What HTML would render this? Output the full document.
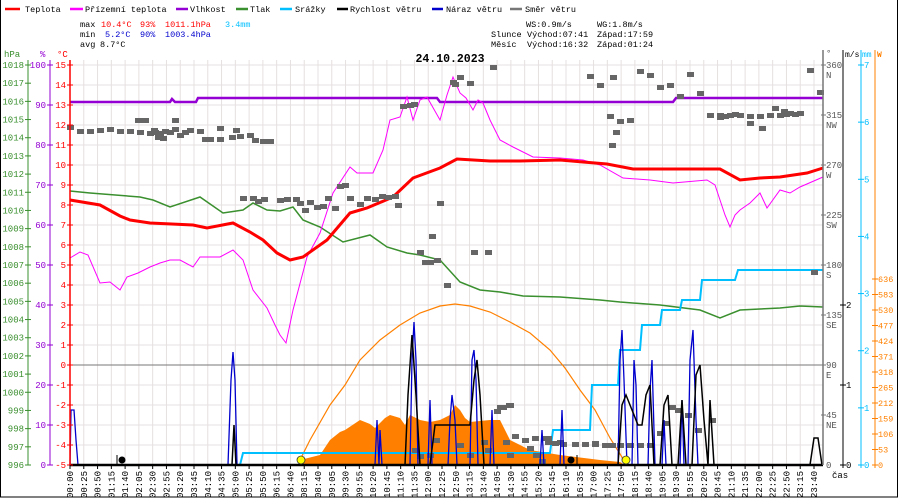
<!DOCTYPE html>
<html><head><meta charset="utf-8"><style>
html,body{margin:0;padding:0;background:#fff}
svg{display:block;font-family:"Liberation Mono",monospace}
</style></head><body>
<svg id="s" width="900" height="500" xmlns="http://www.w3.org/2000/svg">
<rect x="0" y="0" width="900" height="500" fill="#fff"/>
<g id="grid"></g>
<line x1="70" y1="365" x2="823" y2="365" stroke="#777" stroke-width="1"/>
<polygon fill="#ff8000" points="300,465 300,460 320,455 330,440 340,432 345,430 360,420 370,424 375,428 385,418 390,415 400,418 405,425 410,415 420,420 430,422 440,420 450,415 455,405 460,410 465,418 470,422 490,420 500,420 505,430 510,440 530,450 560,455 600,460 620,462 625,465"/>
<polyline fill="none" stroke="#ff8000" stroke-width="1.2" points="300,460 310,440 330,405 345,385 360,360 380,340 400,325 420,313 440,306 455,304 470,306 490,312 510,322 530,333 550,350 565,368 580,390 595,410 610,438 625,462"/>
<polyline fill="none" stroke="#9400d3" stroke-width="2.5" points="70,102 170,102 172,99 175,102 196,102 198,98 437,98 440,102 673,102 676,98 823,98"/>
<polyline fill="none" stroke="#3a8f2e" stroke-width="1.5" points="70,191 90,193 140,197 153,200 170,207 200,197 223,213 243,210 253,203 267,210 280,211 293,207 303,220 320,227 343,242 370,235 387,247 407,253 420,255 440,260 460,282 480,290 500,292 523,296 560,297 600,300 620,302 660,305 700,310 720,318 740,310 760,309 780,308 800,306 823,307"/>
<polyline fill="none" stroke="#ff00ff" stroke-width="1" points="70,258 80,252 88,255 100,283 110,282 120,290 127,277 138,273 150,267 160,263 170,260 180,260 193,267 200,257 220,257 233,250 243,260 253,290 267,308 275,325 280,335 286,343 293,310 307,257 320,233 333,193 350,167 357,173 373,173 383,150 390,120 400,117 407,97 413,120 420,100 427,97 440,120 447,95 453,77 460,93 466,98 473,110 478,100 483,103 490,120 500,140 513,147 533,157 560,158 583,160 600,165 623,178 650,180 673,183 707,180 715,185 720,200 725,215 730,227 735,215 740,210 750,203 760,193 767,208 780,190 790,193 800,187 823,177"/>
<polyline fill="none" stroke="#ff0000" stroke-width="3" points="70,200 100,205 120,216 130,220 150,223 193,225 207,228 233,223 250,232 263,240 277,253 290,260 303,257 327,240 350,213 367,208 393,197 413,178 440,168 457,159 490,161 520,161 560,160 583,162 607,164 633,169 720,169 740,180 760,178 780,177 807,173 823,168"/>
<polyline fill="none" stroke="#00bfff" stroke-width="2" points="70,465 240,465 243,453 550,453 553,430 590,430 592,385 618,385 620,350 640,350 642,325 660,325 662,310 680,310 682,300 700,300 702,280 735,280 738,270 823,270"/>
<g id="dir" fill="#666"></g>
<polyline fill="none" stroke="#0000cd" stroke-width="1.3" points="70,465 71,410 74,410 76,440 78,465 228,465 231,380 233,352 235,380 237,465 375,465 377,420 379,465 380,430 382,465 410,465 412,360 414,322 416,360 418,465 428,465 430,400 432,465 448,465 450,420 452,395 455,420 457,465 470,465 472,360 474,350 476,380 478,465 490,465 492,410 494,465 540,465 542,430 544,465 560,465 562,410 564,465 618,465 620,360 622,330 624,380 627,465 632,465 634,360 636,385 638,465 648,465 650,390 652,360 655,465 662,465 664,420 666,465 680,465 682,400 684,465 688,465 690,360 693,330 696,420 698,465 823,465"/>
<polyline fill="none" stroke="#000" stroke-width="1.5" points="70,465 232,465 234,425 236,465 405,465 408,395 412,335 416,395 420,465 430,465 435,425 470,425 474,380 477,360 480,395 484,465 618,465 622,405 626,395 632,410 638,425 642,425 646,395 650,385 654,465 660,465 664,405 668,395 672,465 678,465 682,400 686,465 692,465 696,375 700,365 704,420 708,465 710,400 714,465 810,465 814,438 818,438 822,465"/>
<line x1="70" y1="465" x2="823" y2="465" stroke="#000" stroke-width="2.5"/>
<circle cx="301" cy="460" r="4" fill="#ffff00" stroke="#333" stroke-width="0.8"/>
<circle cx="626" cy="460" r="4" fill="#ffff00" stroke="#333" stroke-width="0.8"/>
<circle cx="122" cy="460" r="3.5" fill="#000"/>
<circle cx="571" cy="460" r="3.5" fill="#000"/>
<line x1="117" y1="465" x2="117" y2="455" stroke="#000"/>
<line x1="577" y1="465" x2="577" y2="455" stroke="#000"/>
<g id="axes"></g>
<g id="xl" font-size="9"></g>
<g font-size="8.5">
<line x1="5" y1="9" x2="20" y2="9" stroke="#ff0000" stroke-width="2.5"/><text x="25" y="12">Teplota</text>
<line x1="70" y1="9" x2="83" y2="9" stroke="#ff00ff" stroke-width="2.5"/><text x="85" y="12">Přízemní teplota</text>
<line x1="176" y1="9" x2="188" y2="9" stroke="#9400d3" stroke-width="2.5"/><text x="190" y="12">Vlhkost</text>
<line x1="236" y1="9" x2="248" y2="9" stroke="#3a8f2e" stroke-width="2.5"/><text x="250" y="12">Tlak</text>
<line x1="280" y1="9" x2="292" y2="9" stroke="#00bfff" stroke-width="2.5"/><text x="295" y="12">Srážky</text>
<line x1="337" y1="9" x2="348" y2="9" stroke="#000" stroke-width="2.5"/><text x="350" y="12">Rychlost větru</text>
<line x1="432" y1="9" x2="443" y2="9" stroke="#0000cd" stroke-width="2.5"/><text x="446" y="12">Náraz větru</text>
<line x1="510" y1="9" x2="522" y2="9" stroke="#777" stroke-width="2.5"/><text x="525" y="12">Směr větru</text>
</g>
<g font-size="8.5">
<text x="80" y="27">max</text><text x="101" y="27" fill="#ff0000">10.4°C</text><text x="140" y="27" fill="#ff0000">93%</text><text x="165" y="27" fill="#ff0000">1011.1hPa</text><text x="225" y="27" fill="#00bfff">3.4mm</text>
<text x="80" y="37">min</text><text x="105" y="37" fill="#0000cd">5.2°C</text><text x="140" y="37" fill="#0000cd">90%</text><text x="165" y="37" fill="#0000cd">1003.4hPa</text>
<text x="80" y="47">avg</text><text x="100" y="47">8.7°C</text>
<text x="526" y="27">WS:0.9m/s</text><text x="597" y="27">WG:1.8m/s</text>
<text x="491" y="37">Slunce</text><text x="527" y="37">Východ:07:41</text><text x="597" y="37">Západ:17:59</text>
<text x="491" y="47">Měsíc</text><text x="527" y="47">Východ:16:32</text><text x="597" y="47">Západ:01:24</text>
</g>
<text x="450" y="62" font-size="11.5" font-weight="bold" text-anchor="middle">24.10.2023</text>
<rect x="0.5" y="-1" width="897" height="498" fill="none" stroke="#000" stroke-width="1"/>
</svg>
<script>
var NS="http://www.w3.org/2000/svg";
function el(p,t,a,txt){var e=document.createElementNS(NS,t);for(var k in a)e.setAttribute(k,a[k]);if(txt!==undefined)e.textContent=txt;document.getElementById(p).appendChild(e);return e;}
var labs="00:00,00:25,00:50,01:15,01:40,02:05,02:30,02:55,03:20,03:45,04:10,04:35,05:00,05:25,05:50,06:15,06:40,08:15,08:40,09:05,09:30,09:55,10:20,10:45,11:10,11:35,12:00,12:25,12:50,13:15,13:40,14:05,14:30,14:55,15:20,15:45,16:10,16:35,17:00,17:25,17:50,18:15,18:40,19:05,19:30,19:55,20:20,20:45,21:10,21:35,22:00,22:25,22:50,23:15,23:40".split(",");
var dx=(814-70)/54;
for(var i=0;i<labs.length;i++){var x=70+i*dx;
 el("grid","line",{x1:x,y1:60,x2:x,y2:465,stroke:"#e6e0e0","stroke-width":1});
 el("xl","line",{x1:x,y1:465,x2:x,y2:469,stroke:"#000"});
 el("xl","text",{x:0,y:0,transform:"translate("+(x+3)+",471) rotate(-90)","text-anchor":"end"},labs[i]);}
for(var y=65;y<=465;y+=20) el("grid","line",{x1:70,y1:y,x2:823,y2:y,stroke:"#e6e0e0","stroke-width":1});
el("axes","line",{x1:28,y1:60,x2:28,y2:465,stroke:"#3a8f2e"});
el("axes","line",{x1:50,y1:60,x2:50,y2:465,stroke:"#9400d3"});
el("axes","line",{x1:70,y1:60,x2:70,y2:465,stroke:"#ff0000","stroke-width":1.5});
el("axes","text",{x:4,y:57,fill:"#3a8f2e","font-size":9},"hPa");
el("axes","text",{x:40,y:57,fill:"#9400d3","font-size":9},"%");
el("axes","text",{x:57,y:57,fill:"#ff0000","font-size":9},"°C");
for(var v=1018;v>=996;v--){var y=65+(1018-v)*400/22;el("axes","line",{x1:25,y1:y,x2:31,y2:y,stroke:"#3a8f2e"});el("axes","text",{x:24,y:y+3,"text-anchor":"end",fill:"#3a8f2e","font-size":9},v);}
for(var v=100;v>=0;v-=10){var y=465-v*4;el("axes","line",{x1:47,y1:y,x2:53,y2:y,stroke:"#9400d3"});el("axes","text",{x:46,y:y+3,"text-anchor":"end",fill:"#9400d3","font-size":9},v);}
for(var v=15;v>=-5;v--){var y=365-v*20;el("axes","line",{x1:67,y1:y,x2:73,y2:y,stroke:"#ff0000"});el("axes","text",{x:66,y:y+3,"text-anchor":"end",fill:"#ff0000","font-size":9},v);}
el("axes","line",{x1:823,y1:50,x2:823,y2:465,stroke:"#777","stroke-width":1.5});
el("axes","text",{x:826,y:56,fill:"#555","font-size":9},"°");
var dn=["","NE","E","SE","S","SW","W","NW","N"];
for(var k=1;k<=8;k++){var y=465-k*50;el("axes","line",{x1:821,y1:y,x2:826,y2:y,stroke:"#777"});el("axes","text",{x:826,y:y+3,fill:"#555","font-size":9},k*45);el("axes","text",{x:826,y:y+13,fill:"#555","font-size":9},dn[k]);}
el("axes","text",{x:826,y:468,fill:"#555","font-size":9},"0");
el("axes","line",{x1:843,y1:50,x2:843,y2:468,stroke:"#000"});
el("axes","text",{x:845,y:57,"font-size":8},"m/s");
for(var k=0;k<=2;k++){var y=465-k*80;el("axes","line",{x1:840,y1:y,x2:846,y2:y,stroke:"#000"});el("axes","text",{x:846,y:y+3,"font-size":9},k);}
el("axes","line",{x1:861,y1:50,x2:861,y2:468,stroke:"#00bfff"});
el("axes","text",{x:862,y:57,fill:"#00bfff","font-size":8},"mm");
for(var k=0;k<=7;k++){var y=465-k*400/7;el("axes","line",{x1:858,y1:y,x2:864,y2:y,stroke:"#00bfff"});el("axes","text",{x:864,y:y+3,fill:"#00bfff","font-size":9},k);}
el("axes","line",{x1:875,y1:50,x2:875,y2:468,stroke:"#ff8000"});
el("axes","text",{x:877,y:57,fill:"#ff8000","font-size":8,"font-weight":"bold"},"W");
for(var k=0;k<=12;k++){var y=465-k*15.5;el("axes","line",{x1:872,y1:y,x2:878,y2:y,stroke:"#ff8000"});el("axes","text",{x:878,y:y+3,fill:"#ff8000","font-size":8.5},k*53);}
el("axes","text",{x:832,y:478,"font-size":9},"čas");
var d=[[70,127],[80,131],[90,131],[100,130],[110,129],[120,131],[130,131],[140,132],[150,133],[160,133],[170,132],[175,120],[138,120],[145,120],[155,132],[158,137],[165,131],[180,135],[190,130],[200,131],[205,139],[210,139],[220,139],[232,137],[240,136],[250,135],[255,140],[263,141],[270,141],[220,128],[236,130],[175,129],[185,132],[163,138],[154,130],
[243,198],[253,198],[258,201],[264,199],[280,200],[287,199],[296,199],[300,203],[305,210],[310,202],[317,207],[323,206],[328,198],[335,208],[340,186],[345,185],[350,198],[360,204],[367,198],[375,199],[382,196],[388,197],[395,196],[398,205],[403,106],[410,105],[414,104],[420,252],[425,262],[430,262],[432,236],[437,260],[453,82],[460,77],[470,83],[488,252],[440,203],[447,285],[455,84],[493,67],[474,252],[497,411],[503,407],
[509,405],[590,76],[600,85],[610,116],[612,145],[616,132],[620,121],[613,77],[630,120],[640,71],[650,75],[660,87],[670,85],[680,96],[690,74],[700,93],[710,115],[720,115],[730,115],[740,115],[750,116],[760,116],[770,115],[780,115],[790,113],[800,113],[810,70],[820,92],[720,117],[750,123],[762,128],[775,108],[784,111],[735,114],[725,116],[814,272],[786,114],[795,114],[548,442],[555,443],[563,444],[575,444],[585,444],[595,443],[605,445],[612,445],[620,445],[515,436],[525,440],[535,438],[545,438],[530,448],[536,455],[542,461],[510,455],[506,442],[415,450],[420,456],[430,455],[436,440],[460,445],[470,455],[484,442],[488,450],[500,407],[510,405],[548,438],[560,442],[595,444],[630,445],[640,445],[650,445],[660,433],[666,423],[672,407],[678,410],[688,415],[698,430],[712,420]];
for(var i=0;i<d.length;i++) el("dir","rect",{x:d[i][0]-3,y:d[i][1]-2,width:7,height:5});
</script>
</body></html>
